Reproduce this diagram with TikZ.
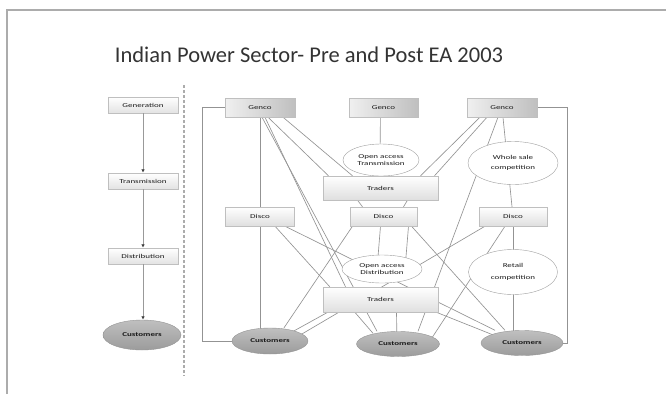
\documentclass[tikz,border=0pt]{standalone}
\usepackage{fontspec}
\setmainfont{Carlito}
\newfontfamily\lblfont[FakeStretch=1.5]{Carlito}
\usetikzlibrary{shapes.geometric,calc,arrows.meta}
\pgfdeclarelayer{bg}
\pgfsetlayers{bg,main}
\tikzset{
  lbl/.style={font=\lblfont\fontsize{6}{6.5}\selectfont, text=black!90},
  gencobox/.style={rectangle, draw=gray!50, left color=gray!12, right color=gray!50, minimum width=70pt, minimum height=19pt, inner sep=0pt, lbl},
  lightbox/.style={rectangle, draw=gray!50, top color=white, bottom color=gray!25, minimum height=19pt, inner sep=0pt, lbl},
  oldbox/.style={rectangle, draw=gray!50, top color=white, bottom color=gray!22, minimum width=70pt, minimum height=16pt, inner sep=0pt, lbl},
  openell/.style={ellipse, draw=gray!75, fill=white, inner sep=0pt, align=center, lbl},
  custell/.style={ellipse, draw=gray!85, top color=gray!50, bottom color=gray!78, inner sep=0pt, lbl, font=\lblfont\fontsize{6}{6.5}\selectfont\bfseries},
  edge/.style={draw=gray!85, line width=0.65pt},
  flow/.style={draw=gray!80, line width=0.7pt, -{Latex[length=3.5pt,width=3.5pt,color=black!75]}}
}
\begin{document}
\begin{tikzpicture}[x=1pt,y=-1pt]
\useasboundingbox (0,0) rectangle (666,394);
% frame
\draw[gray!65, line width=1.6pt] (7,394) -- (7,10) -- (666,10);
% title
\node[font=\fontsize{22.5}{26}\selectfont, text=black!80] (title) at (309,55) {Indian Power Sector- Pre and Post EA 2003};
% divider
\draw[gray!65, line width=2.8pt, dash pattern=on 3pt off 2pt] (184,85) -- (184,376);

% left column
\node[oldbox] (gen) at (143,105) {Generation};
\node[oldbox] (tra) at (143,181) {Transmission};
\node[oldbox] (dis) at (143,256) {Distribution};
\node[custell, minimum width=78pt, minimum height=30pt] (cusL) at (142,335) {Customers};
\draw[flow] (gen.south) -- (tra.north);
\draw[flow] (tra.south) -- (dis.north);
\draw[flow] (dis.south) -- (cusL.north -| dis.south);

% right diagram nodes
\node[gencobox] (g1) at (260,107.5) {Genco};
\node[gencobox, minimum width=69pt] (g2) at (383.5,107.5) {Genco};
\node[gencobox] (g3) at (502,107.5) {Genco};
\node[openell, minimum width=76pt, minimum height=32pt] (oat) at (381,160) {Open access\\Transmission};
\node[lightbox, minimum width=115pt, minimum height=24pt] (t1) at (380.5,188) {Traders};
\node[openell, minimum width=90pt, minimum height=43pt] (ws) at (513,163) {Whole sale\\[3pt]competition};
\node[lightbox, minimum width=69pt] (d1) at (260,216.5) {Disco};
\node[lightbox, minimum width=67pt] (d2) at (383.5,216.5) {Disco};
\node[lightbox, minimum width=68pt] (d3) at (513,216.5) {Disco};
\node[openell, minimum width=80pt, minimum height=28pt] (oad) at (382,269) {Open access\\Distribution};
\node[openell, minimum width=89pt, minimum height=45pt] (rc) at (513,272) {Retail\\[5pt]competition};
\node[lightbox, minimum width=115pt, minimum height=25pt] (t2) at (380.5,299.5) {Traders};
\node[custell, minimum width=76pt, minimum height=26pt] (c1) at (270,341) {Customers};
\node[custell, minimum width=83pt, minimum height=25pt] (c2) at (398,344) {Customers};
\node[custell, minimum width=82pt, minimum height=25pt] (c3) at (522,343) {Customers};

\begin{pgfonlayer}{bg}
% outer connectors
\draw[edge] (g1.west) -- ++(-22,0) |- (c1.west);
\draw[edge] (g3.east) -- ++(30,0) |- (c3.east);
% verticals
\draw[edge] (g1.center) -- (d1.center);
\draw[edge] (d1.center) -- (d1.center |- c1.center);
\draw[edge] ($(g2.center)+(-3,0)$) -- ($(oat.center)+(-1,0)$);
\draw[edge] (g3.center) -- (d3.center);
\draw[edge] (d3.center) -- (d3.center |- c3.center);
\draw[edge] ($(d2.south)+(-3,0)$) -- ($(oad.center)+(-5,0)$);
\draw[edge] ($(d2.south)+(25,0)$) -- ($(oad.center)+(23,0)$);
\draw[edge] ($(t2.south)+(16,0)$) -- ($(c2.center)+(-1,0)$);
% genco 1
\draw[edge] ($(g1.south)+(8,0)$) -- ($(t1.north)+(-52,0)$);
\draw[edge] ($(g1.south)+(23,0)$) -- ($(t1.north)+(-28,0)$);
\draw[edge] ($(g1.south)+(2,0)$) -- ($(c2.north)+(-21,0)$);
\draw[edge] ($(g1.south)+(5,0)$) -- ($(t2.north)+(-35,0)$);
% genco 3
\draw[edge] ($(g3.south)+(-22,0)$) -- ($(t1.north)+(40,0)$);
\draw[edge] ($(g3.south)+(-15,0)$) -- ($(t1.north)+(54,0)$);
\draw[edge] ($(g3.south)+(-4,0)$) -- ($(c2.north)+(20,0)$);
% traders 1 to disco 2
\draw[edge] ($(t1.south)+(-23,0)$) -- ($(d2.north)+(-21,0)$);
\draw[edge] ($(t1.south)+(27,0)$) -- ($(d2.north)+(20,0)$);
% disco 1
\draw[edge] ($(d1.south)+(15,0)$) -- ($(t2.north west)+(7,0)$);
\draw[edge] ($(d1.south)+(25,0)$) -- ($(c3.north)+(-27,0)$);
% disco 2
\draw[edge] ($(d2.south)+(-31,0)$) -- ($(c1.north)+(14,0)$);
\draw[edge] ($(d2.south)+(28,0)$) -- ($(c3.north)+(-17,0)$);
% disco 3
\draw[edge] ($(d3.south)+(-28,0)$) -- ($(c1.east)+(-8,-6)$);
\draw[edge] ($(d3.south)+(-8,0)$) -- ($(c2.north east)+(5,2)$);
% traders 2
\draw[edge] ($(t2.south west)+(5,0)$) -- ($(c1.east)+(-18,-8)$);
\draw[edge] ($(t2.south west)+(32,0)$) -- ($(c2.north)+(-25,2)$);
\draw[edge] ($(t2.south east)+(-2,0)$) -- ($(c3.north west)+(8,4)$);
\end{pgfonlayer}
\end{tikzpicture}
\end{document}
